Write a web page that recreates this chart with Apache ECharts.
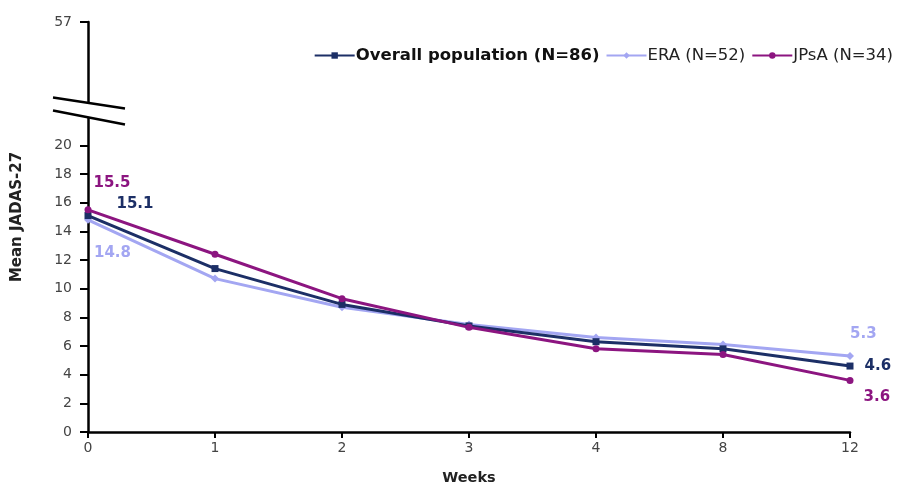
<!DOCTYPE html>
<html><head><meta charset="utf-8">
<script src="https://cdn.jsdelivr.net/npm/echarts@6/dist/echarts.min.js"></script>
<style>html,body{margin:0;padding:0;background:#fff}#c{width:904px;height:487px}</style>
</head><body><div id="c"></div>
<script>
const weeks = ['0','1','2','3','4','8','12'];
const overall = [15.1, 11.4, 8.9, 7.4, 6.3, 5.8, 4.6];
const era = [14.8, 10.7, 8.7, 7.5, 6.6, 6.1, 5.3];
const jpsa = [15.5, 12.4, 9.3, 7.3, 5.8, 5.4, 3.6];
const yTicks = [0,2,4,6,8,10,12,14,16,18,20];
const yTopLabel = '57';
const seriesNames = ['Overall population (N=86)', 'ERA (N=52)', 'JPsA (N=34)'];
const yName = 'Mean JADAS-27';

const C_OV = '#1c2f66', C_ERA = '#a3a6f2', C_JP = '#8c1580';
const font = '"DejaVu Sans", Verdana, sans-serif';
const yMax = 28.6;

function endLabels(arr, color, firstOff, lastOff) {
  return arr.map((v, i) => {
    if (i === 0 || i === arr.length - 1) {
      return { value: v, label: { show: true, color: color, fontWeight: 'bold', fontSize: 15, fontFamily: font,
        position: 'right', offset: i === 0 ? firstOff : lastOff, formatter: p => p.value.toFixed(1) } };
    }
    return v;
  });
}

const chart = echarts.init(document.getElementById('c'), null, {renderer: 'canvas'});
chart.setOption({
  animation: false,
  backgroundColor: '#fff',
  grid: { left: 88, right: 54, top: 22, bottom: 55, outerBoundsMode: 'none', containLabel: false },
  legend: {
    right: 6, top: 42, itemWidth: 40, itemHeight: 8, itemGap: 6,
    textStyle: { fontFamily: font, fontSize: 16.5, color: '#222', padding: [0,0,0,-4] },
    data: [
      { name: seriesNames[0], textStyle: { fontWeight: 'bold', color: '#111' } },
      { name: seriesNames[1] },
      { name: seriesNames[2] }
    ]
  },
  xAxis: {
    type: 'category', data: weeks, boundaryGap: false,
    name: 'Weeks', nameLocation: 'middle', nameGap: 39,
    nameTextStyle: { fontFamily: font, fontWeight: 'bold', fontSize: 14.5, color: '#222' },
    axisLine: { lineStyle: { color: '#000', width: 2.5 } },
    axisTick: { show: true, length: 6, inside: false, lineStyle: { color: '#000', width: 2 }, alignWithLabel: true },
    axisLabel: { fontFamily: font, fontSize: 14, color: '#444', margin: 9 }
  },
  yAxis: {
    type: 'value', min: 0, max: yMax, interval: 2,
    splitLine: { show: false },
    axisLine: { show: true, lineStyle: { color: '#000', width: 2.5 } },
    axisTick: { show: true, length: 8, lineStyle: { color: '#000', width: 2 }, customValues: yTicks.concat([yMax]) },
    axisLabel: { fontFamily: font, fontSize: 14, color: '#444', margin: 16, customValues: yTicks.concat([yMax]),
      formatter: v => v > 20 ? yTopLabel : String(v) }
  },
  series: [
    { name: seriesNames[0], type: 'line', data: endLabels(overall, C_OV, [20, -11], [6, 0]), z: 3,
      symbol: 'rect', symbolSize: 7, lineStyle: { width: 3, color: C_OV }, itemStyle: { color: C_OV } },
    { name: seriesNames[1], type: 'line', data: endLabels(era, C_ERA, [-3, 33], [-9, -22]), z: 2,
      symbol: 'diamond', symbolSize: 8, lineStyle: { width: 3, color: C_ERA }, itemStyle: { color: C_ERA } },
    { name: seriesNames[2], type: 'line', data: endLabels(jpsa, C_JP, [-3, -27], [5, 17]), z: 4,
      symbol: 'circle', symbolSize: 7, lineStyle: { width: 3, color: C_JP }, itemStyle: { color: C_JP } }
  ]
});

// axis break marks and y-axis title (decoration)
const ax = chart.convertToPixel({xAxisIndex: 0}, '0');
const base = chart.convertToPixel({yAxisIndex: 0}, 22.5);
const midY = chart.convertToPixel({yAxisIndex: 0}, 15.0);
chart.setOption({
  graphic: [
    { type: 'rect', shape: { x: ax - 4, y: base - 7, width: 8, height: 15 }, style: { fill: '#fff' }, z: 100 },
    { type: 'line', shape: { x1: ax - 35, y1: base - 12, x2: ax + 37, y2: base - 1 }, style: { stroke: '#000', lineWidth: 2.5 }, z: 101 },
    { type: 'line', shape: { x1: ax - 35, y1: base + 1, x2: ax + 37, y2: base + 15 }, style: { stroke: '#000', lineWidth: 2.5 }, z: 101 },
    { type: 'text', x: 17, y: midY, rotation: Math.PI / 2,
      style: { text: yName, fontFamily: font, fontWeight: 'bold', fontSize: 15, fill: '#222', align: 'center', verticalAlign: 'middle' } }
  ]
});
</script></body></html>
